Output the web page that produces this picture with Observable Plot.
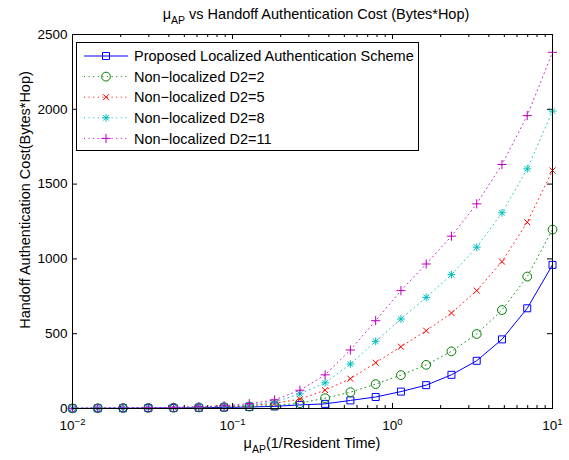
<!DOCTYPE html>
<html><head><meta charset="utf-8">
<script src="https://cdn.jsdelivr.net/npm/d3@7"></script>
<script src="https://cdn.jsdelivr.net/npm/@observablehq/plot@0.6"></script>
<style>
html,body{margin:0;padding:0;background:#fff;}
</style>
</head><body><div id="chart"></div>
<script>
// ---------- data ----------
const mu = [0.01, 0.01438, 0.02069, 0.02976, 0.04281, 0.06158, 0.08859, 0.1274, 0.1833, 0.2637,
            0.3793, 0.5456, 0.7848, 1.129, 1.624, 2.336, 3.360, 4.833, 6.952, 10];
const proposed = [1, 1.5, 2, 3, 4, 5, 7, 10, 14, 24, 31, 54, 77, 113, 156, 225, 319, 462, 670, 960];
const d2_2  = [1, 2, 3, 4, 5, 7, 9, 13, 20, 36, 69, 109, 163, 223, 292, 382, 498, 658, 882, 1196];
const d2_5  = [1, 2, 3, 4, 6, 8, 12, 18, 35, 62, 123, 199, 306, 413, 520, 638, 788, 982, 1245, 1591];
const d2_8  = [1, 2, 3, 5, 7, 10, 15, 24, 45, 98, 172, 297, 449, 598, 743, 895, 1078, 1308, 1602, 1988];
const d2_11 = [1, 2, 3, 5, 8, 12, 18, 32, 58, 122, 225, 391, 587, 788, 966, 1152, 1368, 1631, 1958, 2381];
const seriesNames = [
  "Proposed Localized Authentication Scheme",
  "Non\u2212localized D2=2",
  "Non\u2212localized D2=5",
  "Non\u2212localized D2=8",
  "Non\u2212localized D2=11"
];
const yTicks = [0, 500, 1000, 1500, 2000, 2500];
const xMajor = [0.01, 0.1, 1, 10];
const xExponents = ["\u22122", "\u22121", "0", "1"];
const xMinor = [0.02,0.03,0.04,0.05,0.06,0.07,0.08,0.09,
                0.2,0.3,0.4,0.5,0.6,0.7,0.8,0.9,
                2,3,4,5,6,7,8,9];

// ---------- styles ----------
const FONT = '"Liberation Sans", Arial, Helvetica, sans-serif';
const W = 569, H = 460, mL = 72, mR = 17, mT = 34, mB = 52;
const innerW = W - mL - mR, innerH = H - mT - mB;

const rOf = size => Math.sqrt(size / Math.PI);
const symSquare = {draw(c, s){ const r = rOf(s); c.moveTo(-r,-r); c.lineTo(r,-r); c.lineTo(r,r); c.lineTo(-r,r); c.closePath(); }};
const symCircle = {draw(c, s){ const r = rOf(s); c.moveTo(r,0); c.arc(0,0,r,0,2*Math.PI); }};
const symTimes  = {draw(c, s){ const r = rOf(s); c.moveTo(-r,-r); c.lineTo(r,r); c.moveTo(-r,r); c.lineTo(r,-r); }};
const symAster  = {draw(c, s){ const r = rOf(s), d = r*0.72; c.moveTo(-r,0); c.lineTo(r,0); c.moveTo(0,-r); c.lineTo(0,r);
                                c.moveTo(-d,-d); c.lineTo(d,d); c.moveTo(-d,d); c.lineTo(d,-d); }};
const symPlus   = {draw(c, s){ const r = rOf(s); c.moveTo(-r,0); c.lineTo(r,0); c.moveTo(0,-r); c.lineTo(0,r); }};

const DOTS = "1 3.6";
const series = [
  {name: seriesNames[0], values: proposed, color: "#0000ff", symbol: symSquare, r: 3.5, dash: null},
  {name: seriesNames[1], values: d2_2,     color: "#008000", symbol: symCircle, r: 4.4, dash: DOTS},
  {name: seriesNames[2], values: d2_5,     color: "#ff0000", symbol: symTimes,  r: 3.0, dash: DOTS},
  {name: seriesNames[3], values: d2_8,     color: "#00bfbf", symbol: symAster,  r: 3.9, dash: DOTS},
  {name: seriesNames[4], values: d2_11,    color: "#bf00bf", symbol: symPlus,   r: 4.6, dash: DOTS}
];

const seriesMarks = series.flatMap(s => {
  const rows = mu.map((x, i) => ({x, y: s.values[i]}));
  return [
    Plot.line(rows, {x: "x", y: "y", stroke: s.color, strokeWidth: 1,
                     strokeDasharray: s.dash || undefined, strokeOpacity: s.dash ? 0.85 : 1}),
    Plot.dot(rows, {x: "x", y: "y", symbol: s.symbol, r: s.r, stroke: s.color, fill: "none", strokeWidth: 1})
  ];
});

const chart = Plot.plot({
  width: W, height: H,
  marginLeft: mL, marginRight: mR, marginTop: mT, marginBottom: mB,
  style: {fontFamily: FONT, fontSize: "13.5px", color: "black", background: "white", overflow: "visible"},
  x: {type: "log", domain: [0.01, 10]},
  y: {domain: [0, 2500]},
  marks: [
    Plot.axisX({ticks: xMajor, anchor: "bottom", tickSize: 0, tickPadding: 12, tickFormat: () => "10", fontSize: 13.5, label: null}),
    Plot.axisY({ticks: yTicks, anchor: "left", tickSize: 0, tickPadding: 5, tickFormat: d => String(d), fontSize: 13.5, label: null}),
    // inward ticks, all four sides
    Plot.tickX(xMajor, {x: d => d, stroke: "black", insetTop: innerH - 5}),
    Plot.tickX(xMajor, {x: d => d, stroke: "black", insetBottom: innerH - 5}),
    Plot.tickX(xMinor, {x: d => d, stroke: "black", insetTop: innerH - 3}),
    Plot.tickX(xMinor, {x: d => d, stroke: "black", insetBottom: innerH - 3}),
    Plot.tickY(yTicks, {y: d => d, stroke: "black", insetRight: innerW - 5}),
    Plot.tickY(yTicks, {y: d => d, stroke: "black", insetLeft: innerW - 5}),
    ...seriesMarks,
    Plot.frame({stroke: "black", strokeWidth: 1})
  ]
});

const svg = d3.select(chart);

// superscripts on x tick labels
svg.selectAll('g[aria-label="x-axis tick label"] text').each(function(_, i) {
  d3.select(this).append("tspan").attr("dy", "-0.5em").attr("font-size", 9.5).text(xExponents[i]);
});

// title
const title = svg.append("text").attr("x", 316).attr("y", 19).attr("text-anchor", "middle")
  .attr("font-family", FONT).attr("font-size", 14.5).attr("fill", "black");
title.append("tspan").text("\u03bc");
title.append("tspan").attr("dy", 5).attr("font-size", 10.5).text("AP");
title.append("tspan").attr("dy", -5).text(" vs Handoff Authentication Cost (Bytes*Hop)");

// x label
const xl = svg.append("text").attr("x", 312).attr("y", 448).attr("text-anchor", "middle")
  .attr("font-family", FONT).attr("font-size", 14.5).attr("fill", "black");
xl.append("tspan").text("\u03bc");
xl.append("tspan").attr("dy", 5).attr("font-size", 10.5).text("AP");
xl.append("tspan").attr("dy", -5).text("(1/Resident Time)");

// y label
svg.append("text").attr("transform", "translate(30,200) rotate(-90)").attr("text-anchor", "middle")
  .attr("font-family", FONT).attr("font-size", 14.5).attr("fill", "black")
  .text("Handoff Authentication Cost(Bytes*Hop)");

// legend
const lg = svg.append("g");
lg.append("rect").attr("x", 76.5).attr("y", 42.5).attr("width", 342).attr("height", 108)
  .attr("fill", "white").attr("stroke", "black").attr("stroke-width", 1);
series.forEach((s, i) => {
  const yy = 56 + i * 20.6;
  lg.append("line").attr("x1", 84).attr("x2", 128).attr("y1", yy).attr("y2", yy)
    .attr("stroke", s.color).attr("stroke-width", 1).attr("stroke-dasharray", s.dash);
  lg.append("path").attr("transform", `translate(106,${yy})`)
    .attr("d", d3.symbol().type(s.symbol).size(Math.PI * s.r * s.r)())
    .attr("fill", "none").attr("stroke", s.color).attr("stroke-width", 1);
  lg.append("text").attr("x", 134).attr("y", yy).attr("dy", "0.36em").attr("text-anchor", "start")
    .attr("font-family", FONT).attr("font-size", 14.5).attr("fill", "black").text(s.name);
});

document.getElementById("chart").appendChild(chart);
</script>
</body></html>
